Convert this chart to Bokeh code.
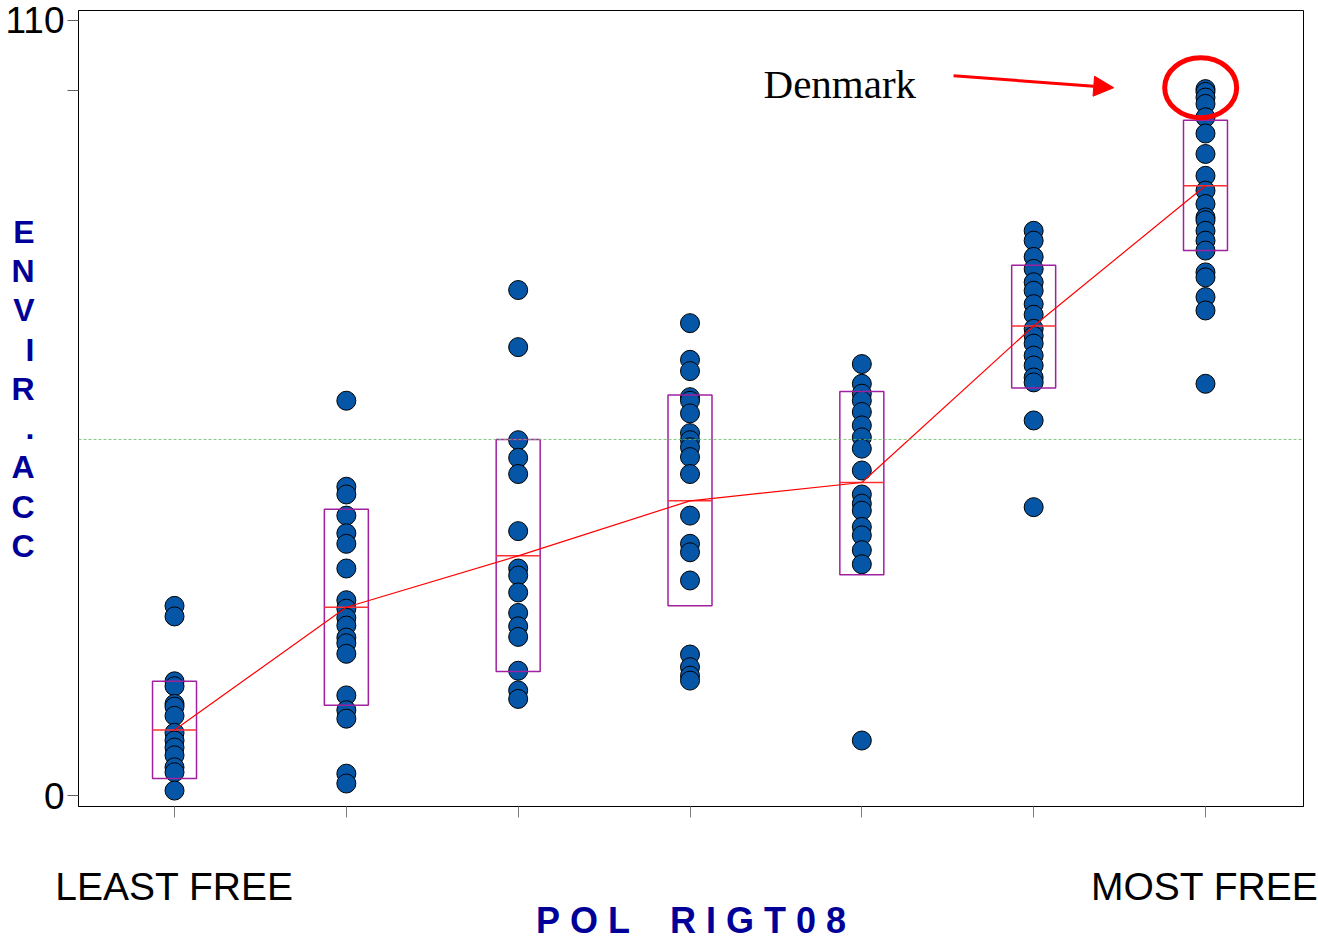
from bokeh.plotting import figure
from bokeh.models import Range1d, FixedTicker, Label, Arrow, NormalHead, Span, ColumnDataSource
from bokeh.embed import file_html
from bokeh.resources import INLINE

# ---- data ----
categories = [1, 2, 3, 4, 5, 6, 7]
cat_labels = {1: "LEAST FREE", 2: "", 3: "", 4: "", 5: "", 6: "", 7: "MOST FREE"}

g1 = [26.9, 25.4, 16.2, 15.5, 13.0, 12.6, 11.3, 8.9, 7.8, 6.8, 5.7, 4.0, 3.3, 0.7]
g2 = [56.0, 43.8, 42.7, 39.7, 37.2, 35.7, 32.2, 27.7, 26.5, 25.2, 24.1, 22.4, 21.6, 20.1, 14.2, 12.1, 10.9, 3.1, 1.7]
g3 = [71.7, 63.6, 50.4, 47.9, 45.6, 37.5, 32.2, 31.2, 28.8, 25.9, 24.0, 22.5, 17.7, 14.9, 13.7]
g4 = [67.0, 61.8, 60.2, 56.5, 56.0, 54.2, 51.4, 50.4, 49.4, 48.0, 45.6, 39.7, 35.7, 34.5, 30.5, 20.0, 18.2, 17.0, 16.3]
g5 = [61.2, 58.4, 57.0, 56.0, 54.4, 52.5, 50.8, 49.2, 46.1, 42.7, 41.4, 40.4, 38.1, 36.9, 34.8, 32.8, 7.8]
g6 = [80.1, 78.7, 76.4, 74.7, 72.8, 71.6, 69.7, 68.2, 66.2, 65.2, 64.1, 62.4, 61.0, 59.3, 58.6, 53.2, 40.9]
g7 = [100.2, 99.8, 99.0, 98.1, 96.2, 93.9, 91.0, 87.9, 85.8, 83.9, 82.0, 81.6, 80.1, 78.7, 77.3, 74.2, 73.5, 70.7, 68.8, 58.4]
groups = [g1, g2, g3, g4, g5, g6, g7]

box_low = [2.4, 12.8, 17.6, 26.9, 31.3, 57.8, 77.3]
box_high = [16.2, 40.6, 50.5, 56.8, 57.3, 75.2, 95.8]
means = [9.3, 26.7, 34.0, 41.8, 44.4, 66.6, 86.5]
grand_mean = 50.5

y_ticks = [0, 100, 110]
y_tick_labels = {0: "0", 100: "", 110: "110"}

NB = "\u00a0"
x_title = NB.join("POL") + NB * 4 + NB.join("RIGT08")
y_title = "ENVIR.ACC"

# annotation (Denmark)
denmark_pt = (6.972, 100.4)
arrow_from = (5.534, 102.1)
denmark_text_pos = (4.428, 100.95)

BLUE_TXT = "#000099"
PT_FILL = "#0556A6"
BOX_COL = "#A020A0"
HALF_W = 0.128

p = figure(width=1318, height=944, output_backend="svg", toolbar_location=None,
           x_range=Range1d(0.4412, 7.5704), y_range=Range1d(-1.56, 111.35),
           min_border_left=78, min_border_right=15, min_border_top=10, min_border_bottom=138)
p.xgrid.visible = False
p.ygrid.visible = False
p.outline_line_color = "black"
p.outline_line_width = 1
p.background_fill_color = "white"
p.border_fill_color = "white"

# x axis
p.xaxis.ticker = FixedTicker(ticks=categories)
p.xaxis.major_label_overrides = cat_labels
p.xaxis.major_label_text_font = "Liberation Sans"
p.xaxis.major_label_text_font_size = "39px"
p.xaxis.major_label_text_color = "black"
p.xaxis.major_label_standoff = 47
p.xaxis.major_tick_in = 0
p.xaxis.major_tick_out = 11
p.xaxis.major_tick_line_color = "#808080"
p.xaxis.minor_tick_line_color = None
p.xaxis.axis_line_color = "black"
p.xaxis.axis_label = x_title
p.xaxis.axis_label_text_font = "Liberation Sans"
p.xaxis.axis_label_text_font_size = "36px"
p.xaxis.axis_label_text_font_style = "bold"
p.xaxis.axis_label_text_color = BLUE_TXT
p.xaxis.axis_label_standoff = -11

# y axis
p.yaxis.ticker = FixedTicker(ticks=y_ticks)
p.yaxis.major_label_overrides = y_tick_labels
p.yaxis.major_label_text_font = "Liberation Sans"
p.yaxis.major_label_text_font_size = "37px"
p.yaxis.major_label_text_color = "black"
p.yaxis.major_label_standoff = 3
p.yaxis.major_tick_in = 0
p.yaxis.major_tick_out = 11
p.yaxis.major_tick_line_color = "#606060"
p.yaxis.minor_tick_line_color = None
p.yaxis.axis_line_color = "black"
p.yaxis.axis_label = "\n".join(y_title) + "\n "
p.yaxis.axis_label_orientation = "horizontal"
p.yaxis.axis_label_text_font = "Liberation Sans"
p.yaxis.axis_label_text_font_size = "32px"
p.yaxis.axis_label_text_font_style = "bold"
p.yaxis.axis_label_text_color = BLUE_TXT
p.yaxis.axis_label_text_line_height = 1.09
p.yaxis.axis_label_standoff = -32

# grand mean line
p.add_layout(Span(location=grand_mean, dimension="width", line_color="#66BB66",
                  line_dash="3 2", line_width=1, line_alpha=0.8))

# points
xs, ys = [], []
for c, g in zip(categories, groups):
    xs += [c] * len(g)
    ys += g
src = ColumnDataSource(data=dict(x=xs, y=ys))
p.scatter("x", "y", source=src, size=19, fill_color=PT_FILL, line_color="black", line_width=1)

# boxes
p.quad(left=[c - HALF_W for c in categories], right=[c + HALF_W for c in categories],
       bottom=box_low, top=box_high, fill_color=None, line_color=BOX_COL, line_width=1.5)
# mean ticks
p.segment(x0=[c - HALF_W for c in categories], x1=[c + HALF_W for c in categories],
          y0=means, y1=means, line_color="#FF3030", line_width=1.5)
# mean connecting line
p.line(categories, means, line_color="red", line_width=1.2)

# Denmark annotation
p.ellipse(x=[denmark_pt[0]], y=[denmark_pt[1]], width=0.419, height=8.51,
          fill_color=None, line_color="red", line_width=5)
p.add_layout(Arrow(x_start=arrow_from[0], y_start=arrow_from[1],
                   x_end=denmark_pt[0] - 0.506, y_end=denmark_pt[1],
                   line_color="red", line_width=3,
                   end=NormalHead(size=20, fill_color="red", line_color="red")))
p.add_layout(Label(x=denmark_text_pos[0], y=denmark_text_pos[1], text="Denmark",
                   text_font="Liberation Serif", text_font_size="41px", text_color="black",
                   text_align="left", text_baseline="alphabetic"))

open("out.html", "w").write(file_html(p, INLINE))
